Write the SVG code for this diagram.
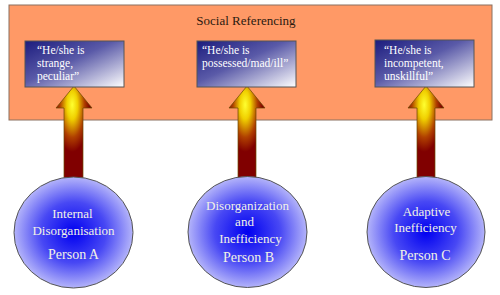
<svg xmlns="http://www.w3.org/2000/svg" width="500" height="295" viewBox="0 0 500 295">
<defs>
<linearGradient id="boxg" x1="0" y1="0" x2="1" y2="1">
<stop offset="0" stop-color="#1c1c7e"/>
<stop offset="0.45" stop-color="#5a5aa8"/>
<stop offset="1" stop-color="#ffffff"/>
</linearGradient>
<radialGradient id="circg" cx="0.5" cy="0.5" r="0.5">
<stop offset="0" stop-color="#0000f0"/>
<stop offset="0.55" stop-color="#4848f4"/>
<stop offset="1" stop-color="#b4b4fa"/>
</radialGradient>
<radialGradient id="arrg" cx="0.45" cy="0.22" r="0.75" fx="0.45" fy="0.2">
<stop offset="0" stop-color="#ffff30"/>
<stop offset="0.2" stop-color="#f0d000"/>
<stop offset="0.45" stop-color="#b04000"/>
<stop offset="0.65" stop-color="#800000"/>
<stop offset="1" stop-color="#800000"/>
</radialGradient>
</defs>
<style>
.bg{fill:#ff9966;stroke:#8a7060;stroke-width:1}
.box{fill:url(#boxg);stroke:#555;stroke-width:1}
.circ{fill:url(#circg);stroke:#555;stroke-width:1}
.arr{fill:url(#arrg);stroke:#6a4a00;stroke-width:0.7}
.bt{font-family:"Liberation Serif",serif;font-size:11.5px;fill:#ffffff}
.ct{font-family:"Liberation Serif",serif;font-size:13px;fill:#f2f2e6;text-anchor:middle}
.pt{font-family:"Liberation Serif",serif;font-size:14px;fill:#f2f2e6;text-anchor:middle}
.title{font-family:"Liberation Serif",serif;font-size:13px;fill:#2a1a10;text-anchor:middle}
</style>
<g id="social-referencing">
<rect class="bg" x="9" y="5" width="483" height="115"/>
<text class="title" x="246" y="25">Social Referencing</text>
</g>
<g id="connectors">
<path class="arr" d="M74,86 L92,108 L83,108 L83,180 L64,180 L64,108 L56,108 Z"/>
<path class="arr" d="M247,86 L265,108 L256,108 L256,180 L238,180 L238,108 L229,108 Z"/>
<path class="arr" d="M426,86 L444,108 L435,108 L435,180 L417,180 L417,108 L408,108 Z"/>
</g>
<g id="box-a">
<rect class="box" x="25" y="41" width="99" height="46"/>
<text class="bt" x="37" y="54">“He/she is</text>
<text class="bt" x="37" y="67">strange,</text>
<text class="bt" x="37" y="80">peculiar”</text>
</g>
<g id="box-b">
<rect class="box" x="197" y="41" width="99" height="46"/>
<text class="bt" x="202" y="54">“He/she is</text>
<text class="bt" x="202" y="67">possessed/mad/ill”</text>
</g>
<g id="box-c">
<rect class="box" x="375" y="40" width="99" height="47"/>
<text class="bt" x="384" y="54">“He/she is</text>
<text class="bt" x="384" y="67">incompetent,</text>
<text class="bt" x="384" y="80">unskillful”</text>
</g>
<g id="person-a">
<ellipse class="circ" cx="73.5" cy="232.5" rx="59.5" ry="55.5"/>
<text class="ct" x="72.5" y="218">Internal</text>
<text class="ct" x="73.5" y="235">Disorganisation</text>
<text class="pt" x="73.5" y="259">Person A</text>
</g>
<g id="person-b">
<ellipse class="circ" cx="247.5" cy="232" rx="59.5" ry="55.5"/>
<text class="ct" x="247.5" y="210">Disorganization</text>
<text class="ct" x="244.5" y="226">and</text>
<text class="ct" x="250.5" y="243">Inefficiency</text>
<text class="pt" x="248.5" y="262">Person B</text>
</g>
<g id="person-c">
<ellipse class="circ" cx="426" cy="232" rx="59" ry="55.5"/>
<text class="ct" x="426.5" y="216">Adaptive</text>
<text class="ct" x="425.5" y="232">Inefficiency</text>
<text class="pt" x="425" y="260">Person C</text>
</g>
</svg>
